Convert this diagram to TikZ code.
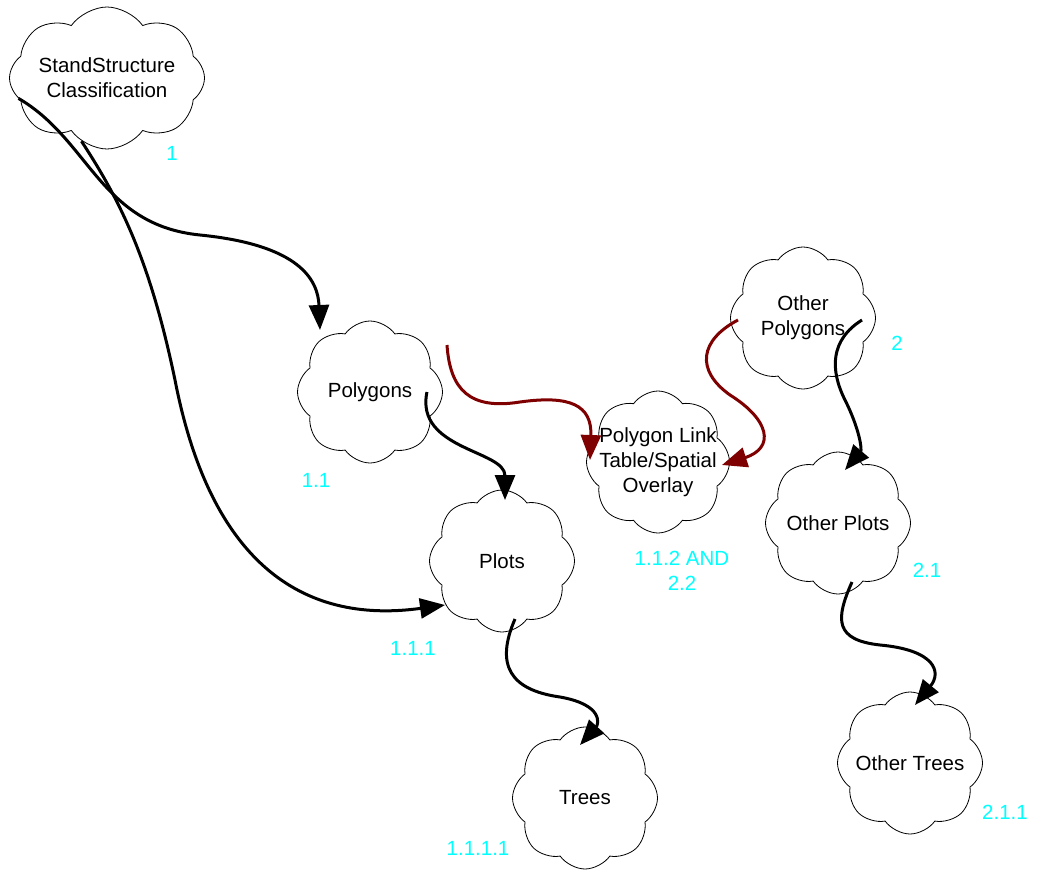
\documentclass[tikz,border=0pt]{standalone}
\usepackage{fontspec}
\setmainfont{Liberation Sans}
\usetikzlibrary{shapes.symbols,arrows.meta}
\definecolor{ink}{HTML}{000000}
\definecolor{linkRed}{HTML}{7F0000}
\definecolor{levelCyan}{HTML}{00FFFF}
\tikzset{
  topic cloud/.style={
    cloud,
    cloud puffs=8,
    cloud puff arc=110,
    cloud ignores aspect,
    draw=ink,
    fill=white,
    line width=0.8pt,
    minimum width=145pt,
    minimum height=142pt,
    inner sep=0pt
  },
  cloud text/.style={
    font=\fontsize{20.5}{25}\selectfont,
    align=center,
    text=ink
  },
  level label/.style={
    font=\fontsize{20.5}{25}\selectfont,
    align=center,
    text=levelCyan,
    inner sep=0pt
  },
  tree edge/.style={
    -{Triangle[length=25pt,width=20pt]},
    draw=ink,
    line width=3pt
  },
  link edge/.style={
    tree edge,
    draw=linkRed
  }
}
\begin{document}
\begin{tikzpicture}[x=1pt,y=-1pt]
  \useasboundingbox[fill=white] (0,0) rectangle (1039,872);

  % clouds
  \node[topic cloud,minimum width=195pt] (stand) at (107,78) {};
  \node[cloud text] (standtxt) at (stand.center) {StandStructure\\Classification};
  \node[topic cloud] (polys) at (370,392) {};
  \node[cloud text] (polystxt) at (polys.center) {Polygons};
  \node[topic cloud,minimum width=143pt] (link) at (658,462) {};
  \node[cloud text] (linktxt) at (link.center) {Polygon Link\\Table/Spatial\\Overlay};
  \node[topic cloud] (opolys) at (803,318) {};
  \node[cloud text] (opolystxt) at (opolys.center) {Other\\Polygons};
  \node[topic cloud] (plots) at (502,561) {};
  \node[cloud text] (plotstxt) at (plots.center) {Plots};
  \node[topic cloud] (oplots) at (838,523) {};
  \node[cloud text] (oplotstxt) at (oplots.center) {Other Plots};
  \node[topic cloud] (trees) at (585,798) {};
  \node[cloud text] (treestxt) at (trees.center) {Trees};
  \node[topic cloud] (otrees) at (910,763) {};
  \node[cloud text] (otreestxt) at (otrees.center) {Other Trees};

  % level numbers
  \node[level label] (lv1) at (172,153) {1};
  \node[level label] (lv11) at (316,480) {1.1};
  \node[level label] (lv111) at (413,648) {1.1.1};
  \node[level label] (lv1111) at (478,848) {1.1.1.1};
  \node[level label] (lv112) at (682,571) {1.1.2 AND\\2.2};
  \node[level label] (lv2) at (897,343) {2};
  \node[level label] (lv21) at (927,570) {2.1};
  \node[level label] (lv211) at (1005,812) {2.1.1};

  % hierarchy
  \draw[tree edge] (stand.193) .. controls (90,140) and (100,225) .. (200,235)
    .. controls (300,245) and (318,280) .. ([shift={(-50,-62)}]polys.center);
  \draw[tree edge] (stand.248) .. controls (120,200) and (150,260) .. (175,380)
    .. controls (210,560) and (300,625) .. ([shift={(-57,44)}]plots.center);
  \draw[tree edge] ([xshift=-16pt]polys.east) .. controls (415,450) and (505,450)
    .. ([shift={(3,-61)}]plots.center);
  \draw[tree edge] ([shift={(13,58)}]plots.center) .. controls (495,665) and (510,690) .. (560,697)
    .. controls (605,705) and (598,725) .. ([shift={(-5,-53)}]trees.center);
  \draw[tree edge] ([shift={(59,2)}]opolys.center) .. controls (830,340) and (830,370) .. (845,400)
    .. controls (860,430) and (862,450) .. ([shift={(7,-53)}]oplots.center);
  \draw[tree edge] ([shift={(14,59)}]oplots.center) .. controls (835,620) and (835,640) .. (880,645)
    .. controls (935,650) and (942,672) .. ([shift={(5,-58)}]otrees.center);

  % links
  \draw[link edge] ([shift={(77,-47)}]polys.center) .. controls (450,390) and (470,410) .. (520,402)
    .. controls (570,395) and (592,405) .. ([shift={(-68,-2)}]link.center);
  \draw[link edge] ([shift={(-65,2)}]opolys.center) .. controls (700,340) and (695,370) .. (730,395)
    .. controls (770,420) and (775,448) .. ([shift={(64,3)}]link.center);
\end{tikzpicture}
\end{document}
